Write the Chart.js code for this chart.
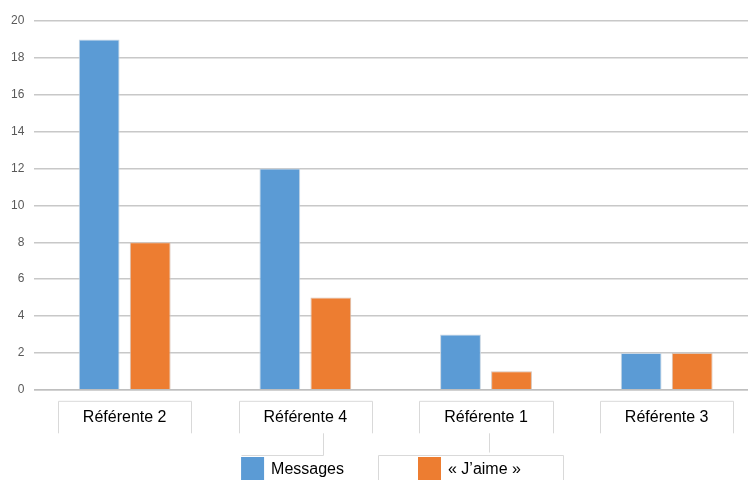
<!DOCTYPE html>
<html>
<head>
<meta charset="utf-8">
<script src="https://cdn.jsdelivr.net/npm/chart.js@4"></script>
<style>
html,body{margin:0;padding:0;background:#fff;overflow:hidden;}
#wrap{width:760px;height:480px;}
</style>
</head>
<body>
<div id="wrap"><canvas id="c" width="760" height="480"></canvas></div>
<script>
const categories = ["Référente 2", "Référente 4", "Référente 1", "Référente 3"];
const messages = [19, 12, 3, 2];
const likes = [8, 5, 1, 2];
const seriesNames = ["Messages", "« J’aime »"];
const yTicks = [0, 2, 4, 6, 8, 10, 12, 14, 16, 18, 20];

const FONT = "'Liberation Sans', Arial, sans-serif";

const decor = {
  id: 'decor',
  afterDraw(chart) {
    const ctx = chart.ctx;
    const xs = chart.scales.x;
    ctx.save();
    ctx.strokeStyle = '#d9d9d9';
    ctx.lineWidth = 1;
    ctx.font = '16px ' + FONT;
    // boxes around category labels
    const top = chart.chartArea.bottom + 11.5;
    const bot = top + 32;
    categories.forEach((c, i) => {
      const cx = xs.getPixelForTick(i);
      const w = ctx.measureText(c).width + 50;
      const l = Math.round(cx - w / 2) + 0.5, r = Math.round(cx + w / 2) + 0.5;
      ctx.beginPath();
      ctx.moveTo(l, bot); ctx.lineTo(l, top); ctx.lineTo(r, top); ctx.lineTo(r, bot);
      ctx.stroke();
    });
    // custom legend
    const ds = chart.data.datasets;
    const box = 23, gapText = 7, itemGap = 74;
    const widths = ds.map(d => box + gapText + ctx.measureText(d.label).width);
    const total = widths.reduce((a, b) => a + b, 0) + itemGap * (ds.length - 1);
    let x = 381 - total / 2;
    const ly = 457;
    ctx.textBaseline = 'middle';
    ctx.fillStyle = '#000';
    ds.forEach((d, i) => {
      ctx.fillStyle = d.backgroundColor;
      ctx.fillRect(x, ly, box, box);
      ctx.fillStyle = '#000';
      ctx.fillText(d.label, x + box + gapText, ly + box / 2 + 1);
      x += widths[i] + itemGap;
    });
    // legend frame lines
    ctx.beginPath();
    ctx.moveTo(378.5, 480); ctx.lineTo(378.5, 455.5); ctx.lineTo(563.5, 455.5); ctx.lineTo(563.5, 480);
    ctx.moveTo(241.5, 455.5); ctx.lineTo(323.5, 455.5); ctx.lineTo(323.5, bot);
    ctx.moveTo(489.5, bot); ctx.lineTo(489.5, 452.5);
    ctx.stroke();
    ctx.restore();
  }
};

new Chart(document.getElementById('c'), {
  type: 'bar',
  data: {
    labels: categories,
    datasets: [
      { label: seriesNames[0], data: messages, backgroundColor: '#5B9BD5', borderColor: '#c9d6e3', borderWidth: 1 },
      { label: seriesNames[1], data: likes, backgroundColor: '#ED7D31', borderColor: '#d8c2b4', borderWidth: 1 }
    ]
  },
  options: {
    responsive: false,
    animation: false,
    devicePixelRatio: 1,
    layout: { padding: { top: 21, left: 1, right: 3, bottom: 35 } },
    plugins: { legend: { display: false }, tooltip: { enabled: false } },
    datasets: { bar: { categoryPercentage: 0.565, barPercentage: 0.8 } },
    scales: {
      x: {
        grid: { display: false, drawTicks: false },
        border: { display: true, color: '#bfbfbf', width: 1.5 },
        ticks: { color: '#000', font: { family: FONT, size: 16 }, padding: 18, maxRotation: 0 }
      },
      y: {
        min: 0, max: 20,
        afterBuildTicks(s) { s.ticks = yTicks.map(v => ({ value: v })); },
        grid: { color: '#c8c8c8', lineWidth: 1.5, drawTicks: false },
        border: { display: false },
        ticks: { color: '#595959', font: { family: FONT, size: 12 }, padding: 10 }
      }
    }
  },
  plugins: [decor]
});
</script>
</body>
</html>
